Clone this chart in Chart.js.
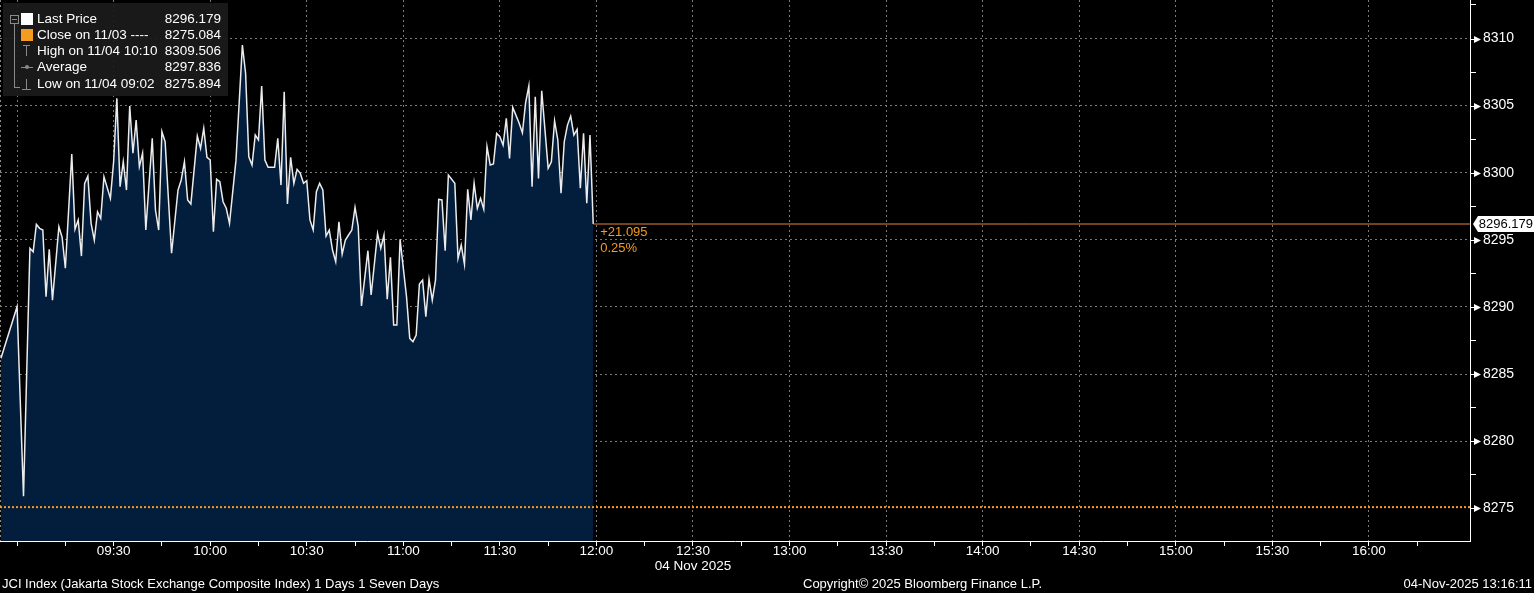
<!DOCTYPE html>
<html>
<head>
<meta charset="utf-8">
<title>JCI Index</title>
<script src="https://cdn.jsdelivr.net/npm/chart.js@4.4.1/dist/chart.umd.min.js"></script>
<style>
    html, body { margin: 0; padding: 0; background: #000; }
    #wrap { position: relative; width: 1534px; height: 593px; overflow: hidden;
            font-family: "Liberation Sans", Arial, sans-serif; color: #fff; }
    #chart { position: absolute; left: 0; top: 0; }
    #legend { position: absolute; left: 3px; top: 3px; width: 225px; height: 93px;
              background: rgba(27, 27, 27, 0.93); }
    .row { position: absolute; left: 34px; width: 184px; height: 16px; line-height: 16px; font-size: 13.5px; white-space: pre; }
    .row .v { position: absolute; right: 0; top: 0; }
    .sw { position: absolute; left: 18px; width: 12px; height: 12px; }
    .g { position: absolute; background: #8a8a8a; }
    .foot { position: absolute; top: 576px; font-size: 13px; line-height: 16px; white-space: pre; }
</style>
</head>
<body>
<div id="wrap">
    <canvas id="chart" width="1534" height="593"></canvas>
    <div id="legend">
        <!-- tree glyphs -->
        <div class="g" style="left:7px;top:12px;width:7px;height:7px;background:none;border:1px solid #8a8a8a"></div>
        <div class="g" style="left:9px;top:16px;width:5px;height:1px"></div>
        <div class="g" style="left:11px;top:21px;width:1px;height:63px"></div>
        <div class="g" style="left:11px;top:84px;width:6px;height:1px"></div>
        <div class="g" style="left:20px;top:42px;width:7px;height:1px"></div>
        <div class="g" style="left:23px;top:42px;width:1px;height:11px"></div>
        <div class="g" style="left:18px;top:64px;width:12px;height:1px"></div>
        <div class="g" style="left:22px;top:62px;width:4px;height:4px;border-radius:2px"></div>
        <div class="g" style="left:23px;top:76px;width:1px;height:10px"></div>
        <div class="g" style="left:19px;top:86px;width:9px;height:1px"></div>
        <div class="sw" style="top:10px;background:#fff"></div>
        <div class="sw" style="top:26px;background:#f39c1f"></div>
        <div class="row" style="top:8px"><span id="l0"></span><span class="v" id="v0"></span></div>
        <div class="row" style="top:24px"><span id="l1"></span><span class="v" id="v1"></span></div>
        <div class="row" style="top:40px"><span id="l2"></span><span class="v" id="v2"></span></div>
        <div class="row" style="top:56px"><span id="l3"></span><span class="v" id="v3"></span></div>
        <div class="row" style="top:73px"><span id="l4"></span><span class="v" id="v4"></span></div>
    </div>
    <div class="foot" style="left:2px">JCI Index (Jakarta Stock Exchange Composite Index) 1 Days 1 Seven Days</div>
    <div class="foot" style="left:803px">Copyright© 2025 Bloomberg Finance L.P.</div>
    <div class="foot" style="right:2px">04-Nov-2025 13:16:11</div>
</div>
<script>
(function () {
    'use strict';

    // intraday prints, one per turning point
    var times = [
        '08:55', '09:00', '09:02', '09:04', '09:05', '09:06', '09:07', '09:08', '09:09', '09:10',
        '09:11', '09:13', '09:14', '09:15', '09:17', '09:18', '09:19', '09:20', '09:21', '09:22',
        '09:23', '09:24', '09:25', '09:26', '09:27', '09:29', '09:30', '09:31', '09:32', '09:33',
        '09:34', '09:35', '09:36', '09:37', '09:38', '09:39', '09:40', '09:42', '09:43', '09:44',
        '09:45', '09:46', '09:48', '09:50', '09:51', '09:52', '09:53', '09:54', '09:56', '09:57',
        '09:58', '09:59', '10:00', '10:01', '10:02', '10:03', '10:04', '10:05', '10:06', '10:08',
        '10:09', '10:10', '10:11', '10:12', '10:13', '10:14', '10:15', '10:16', '10:17', '10:18',
        '10:20', '10:21', '10:22', '10:23', '10:24', '10:25', '10:26', '10:27', '10:28', '10:29',
        '10:30', '10:31', '10:32', '10:33', '10:34', '10:35', '10:36', '10:37', '10:38', '10:39',
        '10:40', '10:41', '10:42', '10:43', '10:44', '10:45', '10:46', '10:47', '10:49', '10:50',
        '10:52', '10:53', '10:54', '10:55', '10:56', '10:57', '10:58', '10:59', '11:01', '11:02',
        '11:03', '11:04', '11:05', '11:06', '11:07', '11:08', '11:09', '11:10', '11:11', '11:12',
        '11:13', '11:14', '11:16', '11:17', '11:18', '11:19', '11:20', '11:21', '11:22', '11:23',
        '11:24', '11:25', '11:26', '11:27', '11:28', '11:29', '11:30', '11:31', '11:32', '11:33',
        '11:34', '11:36', '11:37', '11:38', '11:39', '11:40', '11:41', '11:42', '11:43', '11:45',
        '11:46', '11:47', '11:48', '11:49', '11:50', '11:51', '11:52', '11:53', '11:54', '11:55',
        '11:56', '11:57', '11:58', '11:59'
    ];
    var prices = [
        8286.17, 8290.02, 8275.89, 8294.37, 8294.11, 8296.15, 8295.86, 8295.73, 8290.76, 8294.29,
        8290.51, 8295.98, 8295.19, 8292.88, 8301.39, 8295.78, 8296.48, 8293.79, 8299.21, 8299.75,
        8296.23, 8294.98, 8297.09, 8296.60, 8299.70, 8298.09, 8300.82, 8305.54, 8298.96, 8300.82,
        8298.71, 8304.97, 8301.45, 8303.93, 8300.45, 8301.45, 8295.73, 8302.56, 8297.22, 8295.73,
        8303.06, 8302.31, 8294.00, 8298.71, 8299.46, 8300.82, 8297.97, 8297.67, 8302.73, 8301.82,
        8303.31, 8301.15, 8300.95, 8295.60, 8299.51, 8299.33, 8297.84, 8297.35, 8296.23, 8300.90,
        8305.20, 8309.51, 8307.41, 8301.19, 8300.57, 8302.81, 8302.44, 8306.46, 8300.95, 8300.40,
        8300.40, 8302.56, 8299.08, 8306.04, 8297.67, 8301.15, 8299.21, 8300.25, 8299.95, 8299.21,
        8299.40, 8296.48, 8295.73, 8298.58, 8299.21, 8298.71, 8295.28, 8295.73, 8294.24, 8293.37,
        8296.35, 8293.94, 8294.98, 8295.36, 8295.73, 8297.42, 8295.98, 8290.07, 8294.19, 8290.89,
        8295.48, 8294.37, 8295.36, 8290.57, 8293.70, 8288.65, 8288.65, 8295.04, 8290.76, 8287.66,
        8287.41, 8287.91, 8291.71, 8292.00, 8289.27, 8292.06, 8290.51, 8292.00, 8298.02, 8297.97,
        8294.19, 8299.83, 8299.21, 8293.62, 8294.61, 8293.17, 8298.76, 8296.48, 8299.21, 8297.35,
        8298.09, 8297.27, 8301.94, 8300.57, 8300.65, 8302.93, 8302.68, 8302.06, 8304.05, 8301.07,
        8304.87, 8303.68, 8302.98, 8305.22, 8306.46, 8298.96, 8305.66, 8299.58, 8306.11, 8300.33,
        8300.82, 8303.87, 8302.44, 8298.47, 8302.31, 8303.55, 8304.22, 8302.81, 8303.23, 8298.84,
        8302.94, 8297.72, 8302.81, 8296.179
    ];

    // legend lines: label, value
    var legendLabels = ['Last Price', 'Close on 11/03 ----', 'High on 11/04 10:10', 'Average', 'Low on 11/04 09:02'];
    var legendValues = [8296.179, 8275.084, 8309.506, 8297.836, 8275.894];
    var closePrice = 8275.084;

    var xTickLabels = ['09:30', '10:00', '10:30', '11:00', '11:30', '12:00', '12:30',
                       '13:00', '13:30', '14:00', '14:30', '15:00', '15:30', '16:00'];
    var yTickLabels = ['8275', '8280', '8285', '8290', '8295', '8300', '8305', '8310'];
    var dateLabel = '04 Nov 2025';

    // visible window (minutes after midnight / index points)
    var xMin = 534.7, xMax = 991.4;
    var yMin = 8272.56, yMax = 8312.87;

    var gridColor = '#7a7a7a';
    var orange = '#f39c1f';

    function toMin(s) {
        return parseInt(s.slice(0, 2), 10) * 60 + parseInt(s.slice(3), 10);
    }
    function pad(n) { return (n < 10 ? '0' : '') + n; }
    function fmt(m) { return pad(Math.floor(m / 60)) + ':' + pad(m % 60); }

    for (var i = 0; i < legendLabels.length; i++) {
        document.getElementById('l' + i).textContent = legendLabels[i];
        document.getElementById('v' + i).textContent = legendValues[i].toFixed(3);
    }

    var series = times.map(function (t, k) { return { x: toMin(t), y: prices[k] }; });
    var last = series[series.length - 1];

    // 15 minute ticks on time axis, 2.5 point ticks on price axis
    var xTicks = [xMin];
    for (var m = 540; m <= 975; m += 15) xTicks.push(m);
    var yTicks = [];
    for (var v = 8275; v <= 8312.5; v += 2.5) yTicks.push(v);

    var clear = 'rgba(0,0,0,0)';

    var overlay = {
        id: 'overlay',
        afterDraw: function (chart) {
            var ctx = chart.ctx, xs = chart.scales.x, ys = chart.scales.y;
            var ax = ys.left;
            ctx.save();

            // arrow marks at the labelled price ticks
            ctx.fillStyle = '#fff';
            ctx.strokeStyle = '#fff';
            ctx.lineWidth = 1;
            yTickLabels.forEach(function (l) {
                var py = Math.round(ys.getPixelForValue(+l)) + 0.5;
                ctx.beginPath();
                ctx.moveTo(ax, py);
                ctx.lineTo(ax + 5, py);
                ctx.stroke();
                ctx.beginPath();
                ctx.moveTo(ax + 4, py - 3.5);
                ctx.lineTo(ax + 11, py);
                ctx.lineTo(ax + 4, py + 3.5);
                ctx.closePath();
                ctx.fill();
            });

            // last price tag on the axis
            var ly = ys.getPixelForValue(last.y);
            ctx.beginPath();
            ctx.moveTo(ax + 3, ly);
            ctx.lineTo(ax + 8, ly - 8);
            ctx.lineTo(chart.width, ly - 8);
            ctx.lineTo(chart.width, ly + 8);
            ctx.lineTo(ax + 8, ly + 8);
            ctx.closePath();
            ctx.fillStyle = '#fff';
            ctx.fill();
            ctx.fillStyle = '#000';
            ctx.font = '13px "Liberation Sans", Arial, sans-serif';
            ctx.textAlign = 'right';
            ctx.textBaseline = 'middle';
            ctx.fillText(last.y.toFixed(3), chart.width - 1, ly + 0.5);

            // change against previous close
            var chg = last.y - closePrice;
            var pct = chg / closePrice * 100;
            var lx = xs.getPixelForValue(last.x) + 7;
            ctx.fillStyle = orange;
            ctx.textAlign = 'left';
            ctx.font = '13px "Liberation Sans", Arial, sans-serif';
            ctx.fillText((chg >= 0 ? '+' : '') + chg.toFixed(3), lx, ly + 8);
            ctx.fillText(pct.toFixed(2) + '%', lx, ly + 24);

            ctx.restore();
        }
    };

    new Chart(document.getElementById('chart').getContext('2d'), {
        type: 'line',
        data: {
            datasets: [{
                // previous close
                data: [{ x: xMin, y: closePrice }, { x: xMax, y: closePrice }],
                borderColor: orange,
                borderWidth: 2,
                borderDash: [2, 2],
                pointRadius: 0,
                fill: false
            }, {
                // last price carried forward
                data: [{ x: last.x, y: last.y }, { x: xMax, y: last.y }],
                borderColor: '#e8833a',
                borderWidth: 1,
                pointRadius: 0,
                fill: false
            }, {
                data: series,
                borderColor: '#ececec',
                borderWidth: 1.5,
                backgroundColor: '#031e3d',
                fill: 'start',
                pointRadius: 0,
                tension: 0
            }]
        },
        options: {
            responsive: false,
            animation: false,
            devicePixelRatio: 1,
            layout: { padding: 0 },
            plugins: { legend: { display: false }, tooltip: { enabled: false } },
            scales: {
                x: {
                    type: 'linear',
                    position: 'bottom',
                    min: xMin,
                    max: xMax,
                    bounds: 'data',
                    z: 1,
                    afterBuildTicks: function (s) {
                        s.ticks = xTicks.map(function (t) { return { value: t }; });
                    },
                    afterFit: function (s) {
                        s.height = 52;
                        s.paddingLeft = 0;
                        s.paddingRight = 0;
                    },
                    grid: {
                        color: function (c) {
                            var t = c.tick ? c.tick.value : null;
                            if (t === xMin) return '#8a8a8a';
                            return (t % 30 === 0) ? gridColor : clear;
                        },
                        lineWidth: 1,
                        drawTicks: true,
                        tickLength: 5,
                        tickColor: function (c) {
                            return (c.tick && c.tick.value === xMin) ? clear : '#fff';
                        }
                    },
                    border: { display: true, color: '#fff', width: 1, dash: [2, 3] },
                    ticks: {
                        color: '#fff',
                        autoSkip: false,
                        maxRotation: 0,
                        padding: -2,
                        font: { family: '"Liberation Sans", Arial, sans-serif', size: 13.5, lineHeight: 1.12 },
                        callback: function (val) {
                            if (val % 1 !== 0) return '';
                            var s = fmt(val);
                            if (xTickLabels.indexOf(s) < 0) return '';
                            return s === '12:30' ? [s, dateLabel] : s;
                        }
                    }
                },
                y: {
                    type: 'linear',
                    position: 'right',
                    min: yMin,
                    max: yMax,
                    bounds: 'data',
                    z: 1,
                    afterBuildTicks: function (s) {
                        s.ticks = yTicks.map(function (t) { return { value: t }; });
                    },
                    afterFit: function (s) {
                        s.width = 64;
                        s.paddingTop = 0;
                        s.paddingBottom = 0;
                    },
                    grid: {
                        color: function (c) {
                            var t = c.tick ? c.tick.value : null;
                            return (t % 5 === 0 && t !== 8275) ? gridColor : clear;
                        },
                        lineWidth: 1,
                        tickLength: 6,
                        tickColor: function (c) {
                            return (c.tick && c.tick.value % 5 === 0) ? clear : '#fff';
                        }
                    },
                    border: { display: true, color: '#fff', width: 1, dash: [2, 3] },
                    ticks: {
                        color: '#fff',
                        padding: 7,
                        autoSkip: false,
                        font: { family: '"Liberation Sans", Arial, sans-serif', size: 14 },
                        callback: function (val) {
                            var s = String(val);
                            return yTickLabels.indexOf(s) >= 0 ? s : '';
                        }
                    }
                }
            }
        },
        plugins: [overlay]
    });
}());
</script>
</body>
</html>
